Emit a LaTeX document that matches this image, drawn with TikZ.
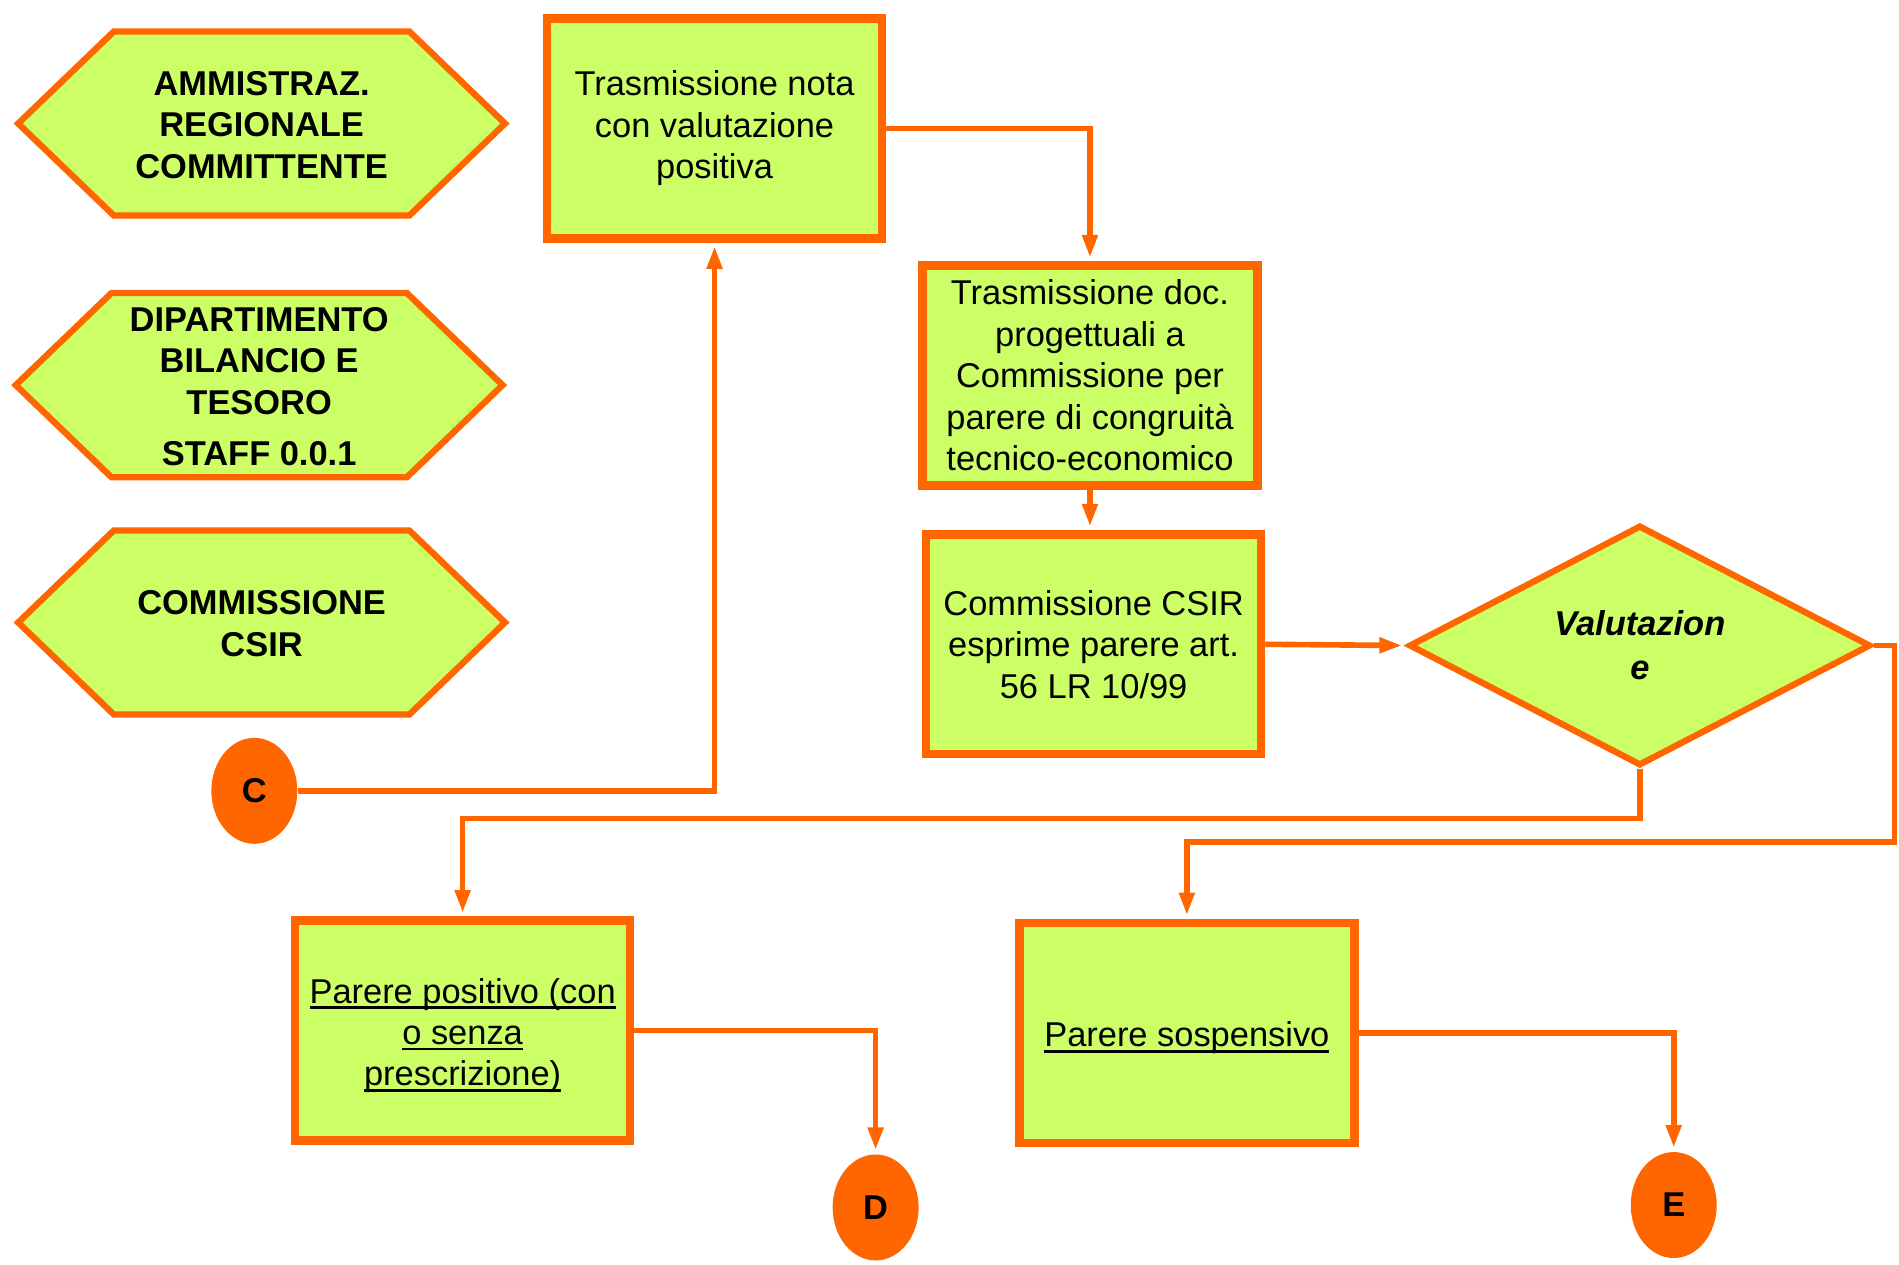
\documentclass[tikz,border=0pt]{standalone}
\usepackage{fontspec}
\setmainfont{Liberation Sans}
\usepackage{tikz}
\usetikzlibrary{positioning,arrows.meta,calc,shapes.geometric}
\definecolor{arancio}{HTML}{FF6600}
\definecolor{verdino}{HTML}{CCFF66}
\newcommand\sott[1]{\setbox0\hbox{#1}\raisebox{-1.4pt}[\ht0][\dp0]{\rlap{\rule[-1.7pt]{\wd0}{0.8pt}}\copy0}}

\begin{document}
\begin{tikzpicture}[x=0.01211cm,y=-0.01211cm,
	font=\fontsize{9.8pt}{11.8pt}\selectfont,
	>={Triangle[length=6.5pt,width=4.2pt]},
	hexa/.style={draw=arancio,fill=verdino,line width=1.8pt,line join=miter},
	hextext/.style={align=center,font=\fontsize{9.8pt}{11.8pt}\selectfont\bfseries},
	box/.style={draw=arancio,fill=verdino,line width=2.4pt,align=center,minimum width=3.35cm,minimum height=2.2cm,inner sep=2pt},
	scelta/.style={diamond,draw=arancio,fill=verdino,line width=1.8pt,minimum width=4.62cm,minimum height=2.32cm,inner sep=0pt,align=center,font=\fontsize{9.8pt}{12.6pt}\selectfont\bfseries\itshape},
	conn/.style={draw=arancio,line width=1.6pt,shorten >=1pt},
	connettore/.style={ellipse,fill=arancio,minimum width=0.86cm,minimum height=1.06cm,inner sep=0pt,font=\fontsize{9.8pt}{11.8pt}\selectfont\bfseries}]
\useasboundingbox (0,0) rectangle (1568,1044);

\foreach \xc/\yc in {216/102, 214/318, 216/514}
	\draw [hexa] (\xc-201,\yc) -- (\xc-122,\yc-76) -- (\xc+122,\yc-76) -- (\xc+201,\yc) -- (\xc+122,\yc+76) -- (\xc-122,\yc+76) -- cycle;
\node [hextext] (amm) at (216,103) {AMMISTRAZ.\\REGIONALE\\COMMITTENTE};
\node [hextext] (dip) at (214,319) {DIPARTIMENTO\\BILANCIO E\\TESORO\\[2.7pt]STAFF 0.0.1};
\node [hextext] (comm) at (216,515) {COMMISSIONE\\CSIR};

\node [box] (tnota) at (590,106) {Trasmissione nota\\con valutazione\\positiva};
\node [box] (tdoc) at (900,310) {Trasmissione doc.\\progettuali a\\Commissione per\\parere di congruit\`a\\tecnico-economico};
\node [box] (csir) at (903,532) {Commissione CSIR\\esprime parere art.\\56 LR 10/99};
\node [scelta] (val) at (1354,533) {Valutazion\\e};
\node [box] (ppos) at (382,851) {\sott{Parere positivo (con}\\\sott{o senza}\\\sott{prescrizione)}};
\node [box] (psos) at (980,853) {\sott{Parere sospensivo}};

\node [connettore] (cC) at (210,653) {C};
\node [connettore] (cD) at (723,997) {D};
\node [connettore] (cE) at (1382,995) {E};

\draw [conn,->] (tnota.east) -| (tdoc.north);
\draw [conn,->] (tdoc.south) -- (tdoc.south |- csir.north);
\draw [conn,->] (csir.east) -- (val.west);
\draw [conn,->] (val.south) -- ++(0,41) -| (ppos.north);
\draw [conn,->] (val.east) -- ++(17,0) -- ++(0,162) -| (psos.north);
\draw [conn,->] (cC.east) -| (tnota.south);
\draw [conn,->] (ppos.east) -| (cD.north);
\draw [conn,->] (psos.east) -| (cE.north);
\end{tikzpicture}
\end{document}
